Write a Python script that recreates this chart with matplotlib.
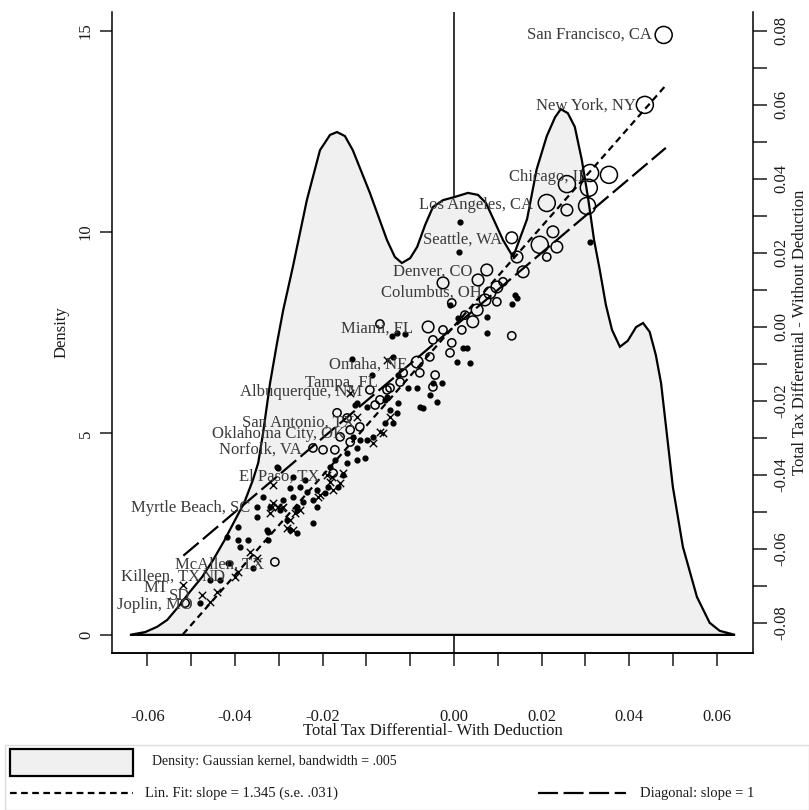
import matplotlib
matplotlib.use("Agg")
import matplotlib.pyplot as plt
from matplotlib.patches import Rectangle
from matplotlib.lines import Line2D

plt.rcParams['font.family'] = ['Liberation Serif', 'DejaVu Serif']

# density curve (x, density)
dens_x = [-0.0740, -0.0705, -0.0678, -0.0655, -0.0630, -0.0603, -0.0575, -0.0550,
          -0.0525, -0.0500, -0.0479, -0.0459, -0.0447, -0.0436, -0.0420, -0.0404,
          -0.0390, -0.0368, -0.0336, -0.0306, -0.0283, -0.0267, -0.0249, -0.0231,
          -0.0192, -0.0153, -0.0135, -0.0119, -0.0100, -0.0084, -0.0066, -0.0048,
          -0.0025, 0.0002, 0.0032, 0.0055, 0.0073, 0.0091, 0.0112, 0.0135,
          0.0167, 0.0189, 0.0212, 0.0231, 0.0244, 0.0260, 0.0276, 0.0292,
          0.0306, 0.0320, 0.0333, 0.0347, 0.0361, 0.0379, 0.0397, 0.0416,
          0.0432, 0.0447, 0.0461, 0.0473, 0.0486, 0.0500, 0.0523, 0.0555,
          0.0584, 0.0607, 0.0642]
dens_y = [0.00, 0.07, 0.20, 0.37, 0.69, 1.07, 1.44, 1.86,
          2.33, 2.85, 3.28, 3.85, 4.27, 5.01, 6.25, 7.25,
          8.06, 9.13, 10.79, 12.03, 12.41, 12.48, 12.38, 12.03,
          10.97, 9.80, 9.38, 9.23, 9.35, 9.63, 10.17, 10.62,
          10.79, 10.87, 10.97, 10.92, 10.72, 10.30, 9.80, 9.38,
          10.32, 11.56, 12.38, 12.85, 13.05, 12.95, 12.61, 11.79,
          10.87, 9.80, 9.06, 8.19, 7.57, 7.15, 7.30, 7.64,
          7.74, 7.52, 6.95, 6.25, 5.01, 3.67, 2.18, 0.94,
          0.30, 0.10, 0.00]

# hollow circles (metro areas), x = with deduction, y = without deduction
circ_x = [0.0479, 0.0436, 0.0311, 0.0354, 0.0258, 0.0308, 0.0212, 0.0304, 0.0196, 0.0235,
          0.0258, 0.0132, 0.0226, 0.0144, 0.0158, 0.0212, -0.0025, -0.0005, 0.0075, 0.0055,
          0.0098, 0.0112, 0.0082, 0.0071, 0.0098, 0.0053, 0.0025, 0.0043, 0.0018, -0.0169,
          -0.0059, -0.0025, -0.0005, -0.0048, -0.0009, -0.0055, -0.0084, -0.0078, -0.0043, -0.0048,
          -0.0116, -0.0123, -0.0146, -0.0169, -0.0192, -0.0153, -0.0180, -0.0215, -0.0267, -0.0244,
          -0.0237, -0.0260, -0.0272, -0.0299, -0.0322, -0.0237, -0.0276, -0.0409, -0.0614, 0.0132]
circ_y = [0.0789, 0.0600, 0.0416, 0.0411, 0.0386, 0.0376, 0.0335, 0.0327, 0.0222, 0.0216,
          0.0316, 0.0241, 0.0257, 0.0189, 0.0149, 0.0189, 0.0119, 0.0065, 0.0154, 0.0127,
          0.0108, 0.0122, 0.0092, 0.0073, 0.0068, 0.0046, 0.0032, 0.0014, -0.0008, 0.0008,
          0.0000, -0.0008, -0.0043, -0.0035, -0.0070, -0.0081, -0.0095, -0.0124, -0.0130, -0.0162,
          -0.0124, -0.0149, -0.0165, -0.0197, -0.0170, -0.0170, -0.0211, -0.0270, -0.0232, -0.0246,
          -0.0278, -0.0297, -0.0332, -0.0332, -0.0327, -0.0311, -0.0395, -0.0635, -0.0746, -0.0024]
circ_s = [150, 150, 150, 150, 150, 150, 150, 150, 150, 70,
          70, 70, 70, 70, 70, 35, 70, 35, 70, 70,
          70, 35, 70, 70, 35, 70, 35, 70, 35, 35,
          70, 35, 35, 35, 35, 35, 70, 35, 35, 35,
          35, 35, 35, 35, 35, 35, 35, 35, 35, 35,
          35, 35, 35, 35, 35, 35, 35, 35, 35, 35]

# filled dots
dot_x = [0.0014, 0.0011, 0.0139, 0.0144, 0.0132, 0.0075, -0.0009, 0.0009, 0.0075, -0.0130,
         0.0311, -0.0142, -0.0112, -0.0139, -0.0233, -0.0187, -0.0128, 0.0030, 0.0007, -0.0027,
         -0.0048, -0.0105, -0.0084, -0.0039, -0.0078, -0.0128, -0.0158, -0.0199, -0.0226, 0.0021,
         0.0037, -0.0055, -0.0071, -0.0221, -0.0153, -0.0146, -0.0130, -0.0139, -0.0158, -0.0185,
         -0.0199, -0.0215, -0.0231, -0.0221, -0.0203, -0.0221, -0.0244, -0.0244, -0.0272, -0.0283,
         -0.0253, -0.0265, -0.0288, -0.0295, -0.0313, -0.0322, -0.0336, -0.0352, -0.0340, -0.0368,
         -0.0374, -0.0368, -0.0345, -0.0313, -0.0358, -0.0402, -0.0436, -0.0450, -0.0390, -0.0420,
         -0.0450, -0.0397, -0.0493, -0.0518, -0.0493, -0.0470, -0.0489, -0.0425, -0.0425, -0.0459,
         -0.0511, -0.0557, -0.0580, -0.0322, -0.0374, -0.0358, -0.0381, -0.0358, -0.0534, -0.0516,
         -0.0404, -0.0427]
dot_y = [0.0284, 0.0203, 0.0086, 0.0078, 0.0062, 0.0027, 0.0059, 0.0024, -0.0016, -0.0016,
         0.0230, -0.0024, -0.0019, -0.0081, -0.0086, -0.0130, -0.0130, -0.0057, -0.0095, -0.0151,
         -0.0151, -0.0165, -0.0165, -0.0203, -0.0216, -0.0205, -0.0197, -0.0216, -0.0211, -0.0057,
         -0.0097, -0.0184, -0.0219, -0.0205, -0.0189, -0.0224, -0.0232, -0.0259, -0.0259, -0.0297,
         -0.0305, -0.0305, -0.0297, -0.0327, -0.0354, -0.0359, -0.0341, -0.0368, -0.0359, -0.0378,
         -0.0400, -0.0432, -0.0432, -0.0449, -0.0441, -0.0468, -0.0446, -0.0432, -0.0414, -0.0405,
         -0.0435, -0.0459, -0.0473, -0.0486, -0.0486, -0.0381, -0.0459, -0.0486, -0.0468, -0.0486,
         -0.0514, -0.0495, -0.0541, -0.0568, -0.0576, -0.0576, -0.0595, -0.0554, -0.0576, -0.0651,
         -0.0638, -0.0684, -0.0746, -0.0530, -0.0549, -0.0557, -0.0522, -0.0495, -0.0684, -0.0638,
         -0.0378, -0.0549]

# crosses
cross_x = [-0.0413, -0.0416, -0.0402, -0.0420, -0.0363, -0.0352, -0.0374, -0.0381, -0.0466, -0.0450,
           -0.0493, -0.0500, -0.0575, -0.0557, -0.0541, -0.0619, -0.0413, -0.0393, -0.0368, -0.0306,
           -0.0276, -0.0283, -0.0253, -0.0260, -0.0290, -0.0221, -0.0185, -0.0162, -0.0146, -0.0153,
           -0.0237, -0.0169, -0.0311, -0.0390, -0.0279]
cross_y = [-0.0427, -0.0486, -0.0486, -0.0503, -0.0503, -0.0495, -0.0522, -0.0543, -0.0608, -0.0624,
           -0.0662, -0.0676, -0.0724, -0.0743, -0.0716, -0.0697, -0.0476, -0.0489, -0.0549, -0.0454,
           -0.0441, -0.0419, -0.0395, -0.0422, -0.0400, -0.0243, -0.0314, -0.0286, -0.0243, -0.0089,
           -0.0178, -0.0284, -0.0459, -0.0486, -0.0405]

fit_slope = 1.345
fit_intercept = 0.0002
fit_x = [-0.0619, 0.0482]
diag_x = [-0.0618, 0.0484]

city_names = ['San Francisco, CA', 'New York, NY', 'Chicago, IL', 'Los Angeles, CA',
              'Seattle, WA', 'Denver, CO', 'Columbus, OH', 'Miami, FL', 'Omaha, NE',
              'Tampa, FL', 'Albuquerque, NM', 'San Antonio, TX', 'Oklahoma City, OK',
              'Norfolk, VA', 'El Paso, TX', 'Myrtle Beach, SC', 'McAllen, TX',
              'Killeen, TX', 'ND', 'MT', 'SD', 'Joplin, MO']
# right end of each label
city_lx = [0.0452, 0.0416, 0.0306, 0.0180, 0.0110, 0.0043, 0.0064, -0.0094, -0.0107,
           -0.0174, -0.0210, -0.0226, -0.0249, -0.0347, -0.0306, -0.0466, -0.0434,
           -0.0580, -0.0521, -0.0653, -0.0603, -0.0598]
city_ly = [0.0789, 0.0597, 0.0405, 0.0330, 0.0235, 0.0149, 0.0092, -0.0005, -0.0103,
           -0.0151, -0.0176, -0.0259, -0.0289, -0.0332, -0.0405, -0.0489, -0.0643,
           -0.0676, -0.0676, -0.0705, -0.0727, -0.0751]

xtick_pos = [k * 0.01 for k in range(-7, 7)]
xtick_lab = ['-0.06', '', '-0.04', '', '-0.02', '', '', '0.00', '', '0.02', '', '0.04', '', '0.06']
ytick_left = [0, 5, 10, 15]
ytick_right = [-0.08, -0.06, -0.04, -0.02, 0.0, 0.02, 0.04, 0.06, 0.08]
ytick_right_lab = ['-0.08', '-0.06', '-0.04', '-0.02', '0.00', '0.02', '0.04', '0.06', '0.08']
ytick_right_minor = [-0.07, -0.05, -0.03, -0.01, 0.01, 0.03, 0.05, 0.07]

W, H = 809, 810
fig = plt.figure(figsize=(W / 100, H / 100), dpi=100)
ax = fig.add_axes([112 / W, 1 - 653 / H, 641 / W, 641 / H])
ax2 = ax.twinx()

ink = '#1a1a1a'
ax.axvline(0, color='black', lw=1.1, zorder=0)
ax.fill(dens_x, dens_y, facecolor='#f0f0f0', edgecolor='black', lw=1.6, zorder=1)

ax.set_xlim(-0.0781, 0.0683)
ax.set_ylim(-0.45, 15.46)
ax2.set_ylim(-0.0881, 0.0851)

ax2.scatter(circ_x, circ_y, s=circ_s, facecolors='none', edgecolors='black', linewidths=1.1, zorder=3)
ax2.scatter(dot_x, dot_y, s=12, color='black', zorder=3)
ax2.scatter(cross_x, cross_y, s=28, marker='x', color='black', linewidths=1.0, zorder=3)

ax2.plot(fit_x, [fit_slope * v + fit_intercept for v in fit_x], color='black', lw=1.6,
         linestyle=(0, (3, 2)), zorder=4)
ax2.plot(diag_x, diag_x, color='black', lw=1.6, linestyle=(0, (9, 2.5)), zorder=4)

for name, lx, ly in zip(city_names, city_lx, city_ly):
    ax2.text(lx, ly, name, ha='right', va='center', fontsize=12, color='#3a3a3a', zorder=5)

for a in (ax, ax2):
    a.spines['top'].set_visible(False)
    for s in a.spines.values():
        s.set_linewidth(1.1)
ax.spines['right'].set_visible(False)
ax2.spines['left'].set_visible(False)

ax.set_xticks(xtick_pos)
ax.set_xticklabels(xtick_lab)
ax.tick_params(axis='x', direction='out', length=9.5, width=1.1, labelsize=12, pad=31, colors=ink)
ax.set_yticks(ytick_left)
ax.set_yticklabels([str(v) for v in ytick_left], rotation=90, va='center')
ax.tick_params(axis='y', direction='out', length=9, width=1.1, labelsize=12, pad=4, colors=ink)

ax2.set_yticks(ytick_right)
ax2.set_yticklabels(ytick_right_lab, rotation=90, va='center')
ax2.set_yticks(ytick_right_minor, minor=True)
ax2.tick_params(axis='y', which='both', direction='out', length=10, width=1.1, labelsize=12,
                pad=5, colors=ink)

ax.set_xlabel('Total Tax Differential- With Deduction', fontsize=12, color=ink)
ax.xaxis.set_label_coords(0.5, (653 - 731) / 641)
ax.xaxis.label.set_va('center')
ax.set_ylabel('Density', fontsize=12, color=ink)
ax.yaxis.set_label_coords((62 - 112) / 641, 0.5)
ax.yaxis.label.set_va('center')
ax2.set_ylabel('Total Tax Differential - Without Deduction', fontsize=12, color=ink)
ax2.yaxis.set_label_coords((800 - 112) / 641, 0.5)
ax2.yaxis.label.set_va('center')

# legend block below the plot
fig.add_artist(Rectangle((5 / W, 0), 1 - 5 / W, 1 - 745 / H, transform=fig.transFigure,
                         facecolor='none', edgecolor='#dcdcdc', lw=1))
fig.add_artist(Rectangle((10 / W, 1 - 776 / H), 123 / W, 27 / H, transform=fig.transFigure,
                         facecolor='#f0f0f0', edgecolor='black', lw=1.6))
fig.text(152 / W, 1 - 762 / H, 'Density: Gaussian kernel, bandwidth = .005', fontsize=10,
         va='center', color=ink)
fig.add_artist(Line2D([10 / W, 133 / W], [1 - 793 / H] * 2, transform=fig.transFigure,
                      color='black', lw=1.6, linestyle=(0, (3, 2))))
fig.text(145 / W, 1 - 793 / H, 'Lin. Fit: slope = 1.345 (s.e. .031)', fontsize=10.5,
         va='center', color=ink)
fig.add_artist(Line2D([538 / W, 626 / W], [1 - 793 / H] * 2, transform=fig.transFigure,
                      color='black', lw=1.6, linestyle=(0, (9, 2.5))))
fig.text(640 / W, 1 - 793 / H, 'Diagonal: slope = 1', fontsize=10.5, va='center', color=ink)

fig.savefig('out.png', dpi=100)
